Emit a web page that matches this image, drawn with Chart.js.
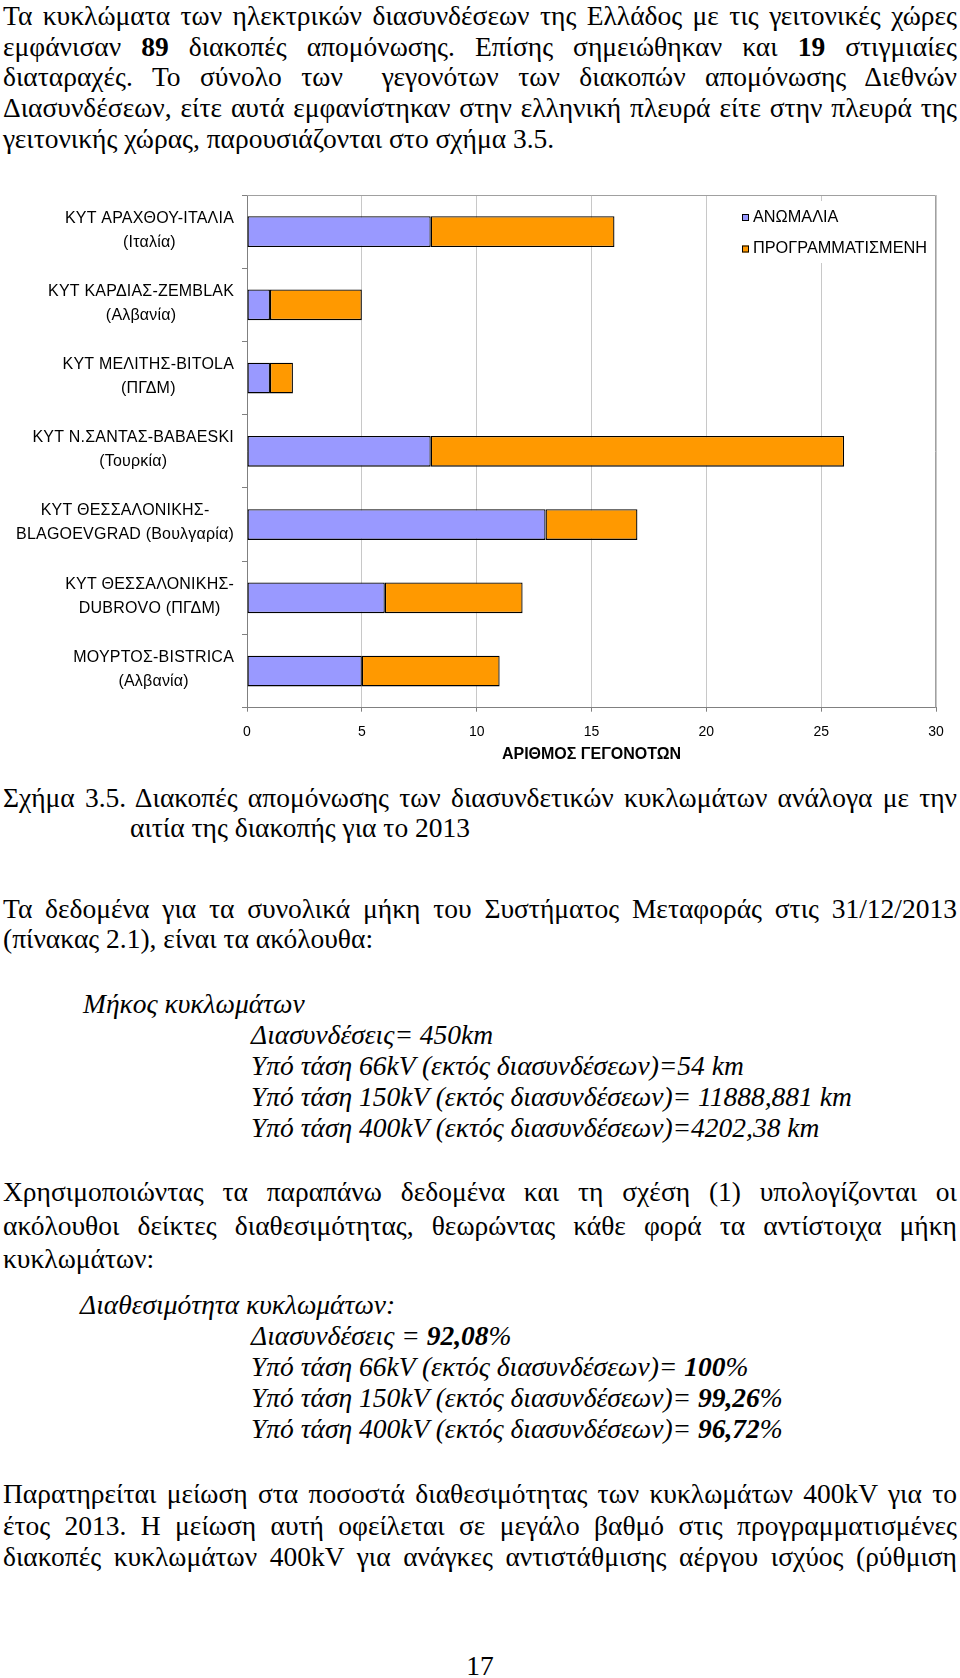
<!DOCTYPE html>
<html>
<head>
<meta charset="utf-8">
<script src="https://cdn.jsdelivr.net/npm/chart.js@4.4.1/dist/chart.umd.min.js"></script>
<style>
    html, body { margin: 0; padding: 0; background: #fff; }
    body {
        width: 960px; height: 1678px; position: relative; overflow: hidden;
        font-family: "Liberation Serif", "Times New Roman", serif;
        font-size: 27.5px; color: #000;
    }
    .ln { position: absolute; left: 3px; width: 954px; height: 31px; line-height: 31px; white-space: nowrap; }
    .j { text-align: justify; text-align-last: justify; white-space: normal; }
    .it { font-style: italic; }
    #wrap { position: absolute; left: 0; top: 180px; width: 960px; height: 600px; }
</style>
</head>
<body>

<div class="ln j" style="top:0px">Τα κυκλώματα των ηλεκτρικών διασυνδέσεων της Ελλάδος με τις γειτονικές χώρες</div>
<div class="ln j" style="top:30.5px">εμφάνισαν <b>89</b> διακοπές απομόνωσης. Επίσης σημειώθηκαν και <b>19</b> στιγμιαίες</div>
<div class="ln j" style="top:60.5px">διαταραχές. Το σύνολο των &nbsp;γεγονότων των διακοπών απομόνωσης Διεθνών</div>
<div class="ln j" style="top:91.5px">Διασυνδέσεων, είτε αυτά εμφανίστηκαν στην ελληνική πλευρά είτε στην πλευρά της</div>
<div class="ln" style="top:122.5px">γειτονικής χώρας, παρουσιάζονται στο σχήμα 3.5.</div>

<div id="wrap"><canvas id="chart" width="960" height="600"></canvas></div>

<div class="ln j" style="top:782px">Σχήμα 3.5. Διακοπές απομόνωσης των διασυνδετικών κυκλωμάτων ανάλογα με την</div>
<div class="ln" style="top:812px;left:130px">αιτία της διακοπής για το 2013</div>

<div class="ln j" style="top:892.5px">Τα δεδομένα για τα συνολικά μήκη του Συστήματος Μεταφοράς στις 31/12/2013</div>
<div class="ln" style="top:922.5px">(πίνακας 2.1), είναι τα ακόλουθα:</div>

<div class="ln it" style="top:988px;left:83px">Μήκος κυκλωμάτων</div>
<div class="ln it" style="top:1019px;left:251px">Διασυνδέσεις= 450km</div>
<div class="ln it" style="top:1050px;left:251px">Υπό τάση 66kV (εκτός διασυνδέσεων)=54 km</div>
<div class="ln it" style="top:1081px;left:251px">Υπό τάση 150kV (εκτός διασυνδέσεων)= 11888,881 km</div>
<div class="ln it" style="top:1112px;left:251px">Υπό τάση 400kV (εκτός διασυνδέσεων)=4202,38 km</div>

<div class="ln j" style="top:1176px">Χρησιμοποιώντας τα παραπάνω δεδομένα και τη σχέση (1) υπολογίζονται οι</div>
<div class="ln j" style="top:1209.5px">ακόλουθοι δείκτες διαθεσιμότητας, θεωρώντας κάθε φορά τα αντίστοιχα μήκη</div>
<div class="ln" style="top:1242.5px">κυκλωμάτων:</div>

<div class="ln it" style="top:1288.5px;left:80px">Διαθεσιμότητα κυκλωμάτων:</div>
<div class="ln it" style="top:1319.5px;left:251px">Διασυνδέσεις = <b>92,08</b>%</div>
<div class="ln it" style="top:1350.5px;left:251px">Υπό τάση 66kV (εκτός διασυνδέσεων)= <b>100</b>%</div>
<div class="ln it" style="top:1381.5px;left:251px">Υπό τάση 150kV (εκτός διασυνδέσεων)= <b>99,26</b>%</div>
<div class="ln it" style="top:1412.5px;left:251px">Υπό τάση 400kV (εκτός διασυνδέσεων)= <b>96,72</b>%</div>

<div class="ln j" style="top:1478px">Παρατηρείται μείωση στα ποσοστά διαθεσιμότητας των κυκλωμάτων 400kV για το</div>
<div class="ln j" style="top:1510px">έτος 2013. Η μείωση αυτή οφείλεται σε μεγάλο βαθμό στις προγραμματισμένες</div>
<div class="ln j" style="top:1541px">διακοπές κυκλωμάτων 400kV για ανάγκες αντιστάθμισης αέργου ισχύος (ρύθμιση</div>

<div class="ln" style="top:1650px;left:0;width:960px;text-align:center">17</div>

<script>
// Chart data
const categories = [
    ['ΚΥΤ ΑΡΑΧΘΟΥ-ΙΤΑΛΙΑ', '(Ιταλία)'],
    ['ΚΥΤ ΚΑΡΔΙΑΣ-ZEMBLAK', '(Αλβανία)'],
    ['ΚΥΤ ΜΕΛΙΤΗΣ-BITOLA', '(ΠΓΔΜ)'],
    ['ΚΥΤ Ν.ΣΑΝΤΑΣ-BABAESKI', '(Τουρκία)'],
    ['ΚΥΤ ΘΕΣΣΑΛΟΝΙΚΗΣ-', 'BLAGOEVGRAD (Βουλγαρία)'],
    ['ΚΥΤ ΘΕΣΣΑΛΟΝΙΚΗΣ-', 'DUBROVO (ΠΓΔΜ)'],
    ['ΜΟΥΡΤΟΣ-BISTRICA', '(Αλβανία)']
];
const anomaly = [8, 1, 1, 8, 13, 6, 5];
const scheduled = [8, 4, 1, 18, 4, 6, 6];
const seriesNames = ['ΑΝΩΜΑΛΙΑ', 'ΠΡΟΓΡΑΜΜΑΤΙΣΜΕΝΗ'];
const xTicks = [0, 5, 10, 15, 20, 25, 30];
const axisTitle = 'ΑΡΙΘΜΟΣ ΓΕΓΟΝΟΤΩΝ';

const SANS = '"Liberation Sans", Arial, sans-serif';

// category labels: each label centred on itself, block right-aligned to the axis
const sideLabels = {
    id: 'sideLabels',
    afterDraw(chart) {
        const ctx = chart.ctx;
        const y = chart.scales.y;
        const right = chart.chartArea.left - 13;
        ctx.save();
        ctx.font = '16px ' + SANS;
        ctx.letterSpacing = '0.2px';
        ctx.fillStyle = '#000';
        ctx.textAlign = 'center';
        ctx.textBaseline = 'middle';
        chart.data.labels.forEach((lines, i) => {
            const cy = y.getPixelForTick(i) - 1.5;
            const w = Math.max(...lines.map(s => ctx.measureText(s).width));
            lines.forEach((s, k) => {
                ctx.fillText(s, right - w / 2, cy + (k - (lines.length - 1) / 2) * 24);
            });
        });
        ctx.restore();
    }
};

// legend inside the plot, top right, plus the plot frame
const boxLegend = {
    id: 'boxLegend',
    beforeDatasetsDraw(chart) {
        const a = chart.chartArea;
        const ctx = chart.ctx;
        ctx.save();
        ctx.fillStyle = '#fff';
        ctx.fillRect(a.right - 200, a.top + 6, 198, 62);
        ctx.restore();
    },
    afterDatasetsDraw(chart) {
        const a = chart.chartArea;
        const ctx = chart.ctx;
        ctx.save();
        ctx.font = '16.3px ' + SANS;
        ctx.textBaseline = 'middle';
        chart.data.datasets.forEach((ds, i) => {
            const y = a.top + 22.5 + i * 31.5;
            const x = a.right - 194;
            ctx.fillStyle = ds.backgroundColor;
            ctx.fillRect(x, y - 3.5, 7, 7);
            ctx.strokeStyle = '#000';
            ctx.lineWidth = 1;
            ctx.strokeRect(x + 0.5, y - 3, 6, 6);
            ctx.fillStyle = '#000';
            ctx.fillText(ds.label, x + 11, y);
        });
        ctx.strokeStyle = '#a0a0a0';
        ctx.lineWidth = 1;
        ctx.beginPath();
        ctx.moveTo(a.left, a.top + 0.5);
        ctx.lineTo(a.right - 0.5, a.top + 0.5);
        ctx.lineTo(a.right - 0.5, a.bottom);
        ctx.stroke();
        ctx.restore();
    }
};

new Chart(document.getElementById('chart'), {
    type: 'bar',
    data: {
        labels: categories,
        datasets: [
            {
                label: seriesNames[0],
                data: anomaly,
                backgroundColor: '#9999FF',
                borderColor: '#000',
                borderWidth: 1.3,
                borderSkipped: false,
                barPercentage: 0.418,
                categoryPercentage: 1
            },
            {
                label: seriesNames[1],
                data: scheduled,
                backgroundColor: '#FF9900',
                borderColor: '#000',
                borderWidth: 1.3,
                borderSkipped: false,
                barPercentage: 0.418,
                categoryPercentage: 1
            }
        ]
    },
    options: {
        indexAxis: 'y',
        responsive: false,
        animation: false,
        devicePixelRatio: 1,
        layout: { padding: { top: 15, right: 24, left: 0, bottom: 0 } },
        plugins: {
            legend: { display: false },
            tooltip: { enabled: false }
        },
        scales: {
            x: {
                stacked: true,
                min: 0,
                max: 30,
                afterBuildTicks: s => { s.ticks = xTicks.map(v => ({ value: v })); },
                afterFit: s => { s.height = 72.3; },
                grid: { color: '#c8c8c8', tickColor: '#808080', tickLength: 4 },
                border: { color: '#808080' },
                ticks: { color: '#000', font: { family: SANS, size: 14 }, padding: 12, maxRotation: 0 },
                title: {
                    display: true,
                    text: axisTitle,
                    color: '#000',
                    font: { family: SANS, size: 16, weight: 'bold' },
                    padding: { top: 0, bottom: 15.4 }
                }
            },
            y: {
                stacked: true,
                afterFit: s => { s.width = 247; },
                grid: { display: true, drawOnChartArea: false, offset: true, tickLength: 5, tickColor: '#808080' },
                border: { color: '#808080' },
                ticks: { display: false }
            }
        }
    },
    plugins: [sideLabels, boxLegend]
});
</script>
</body>
</html>
